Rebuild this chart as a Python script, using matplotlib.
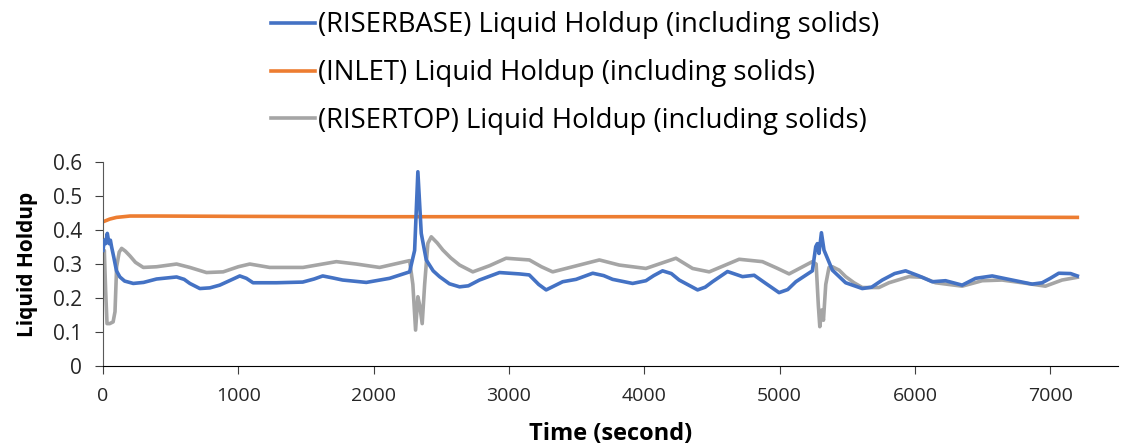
import numpy as np
import matplotlib
matplotlib.use("Agg")
import matplotlib.pyplot as plt

plt.rcParams['font.family'] = ['Open Sans', 'DejaVu Sans']

# RISERBASE liquid holdup
base_t = [0, 10, 20, 32, 45, 55, 64, 80, 100, 125, 160, 224, 300, 396, 544, 600, 642, 716, 790,
          863, 940, 1011, 1060, 1109, 1282, 1476, 1560, 1624, 1700, 1771, 1946, 2118, 2266, 2303,
          2327, 2352, 2389, 2440, 2487, 2560, 2635, 2700, 2782, 2930, 3077, 3150, 3220, 3275,
          3397, 3496, 3619, 3700, 3766, 3914, 4012, 4070, 4135, 4200, 4258, 4394, 4450, 4504,
          4615, 4726, 4812, 4898, 4996, 5060, 5120, 5242, 5267, 5279, 5291, 5309, 5328, 5390,
          5488, 5611, 5680, 5759, 5850, 5931, 6030, 6128, 6226, 6349, 6448, 6571, 6718, 6866,
          6940, 7000, 7063, 7150, 7200]
base_v = [0.34, 0.37, 0.36, 0.39, 0.36, 0.37, 0.35, 0.32, 0.28, 0.262, 0.25, 0.243, 0.246, 0.256,
          0.262, 0.255, 0.243, 0.228, 0.230, 0.238, 0.252, 0.265, 0.258, 0.245, 0.245, 0.247,
          0.256, 0.265, 0.259, 0.253, 0.246, 0.258, 0.277, 0.34, 0.571, 0.39, 0.312, 0.280,
          0.263, 0.242, 0.233, 0.236, 0.253, 0.275, 0.271, 0.268, 0.240, 0.224, 0.248, 0.255,
          0.273, 0.266, 0.255, 0.243, 0.251, 0.266, 0.280, 0.272, 0.253, 0.224, 0.232, 0.248,
          0.278, 0.263, 0.267, 0.243, 0.216, 0.225, 0.248, 0.280, 0.351, 0.36, 0.331, 0.392,
          0.341, 0.282, 0.245, 0.228, 0.232, 0.253, 0.272, 0.280, 0.265, 0.248, 0.251, 0.238,
          0.258, 0.265, 0.253, 0.241, 0.245, 0.258, 0.273, 0.272, 0.265]

# INLET liquid holdup
inlet_t = [0, 50, 100, 200, 400, 1000, 2000, 3000, 4000, 5000, 6000, 7200]
inlet_v = [0.424, 0.432, 0.437, 0.441, 0.441, 0.440, 0.439, 0.439, 0.439, 0.438, 0.438, 0.437]

# RISERTOP liquid holdup
top_t = [0, 10, 20, 30, 50, 75, 89, 101, 120, 138, 165, 199, 240, 298, 396, 544, 642, 765, 888,
         1000, 1085, 1232, 1478, 1725, 1872, 2044, 2266, 2290, 2310, 2327, 2340, 2359, 2377,
         2401, 2426, 2470, 2512, 2570, 2635, 2733, 2856, 2979, 3151, 3240, 3323, 3471, 3668,
         3815, 4012, 4234, 4357, 4480, 4701, 4873, 4980, 5070, 5242, 5270, 5286, 5297, 5311,
         5324, 5341, 5365, 5390, 5440, 5488, 5550, 5611, 5734, 5808, 5956, 6054, 6152, 6349,
         6497, 6644, 6792, 6964, 7087, 7200]
top_v = [0.248, 0.34, 0.22, 0.125, 0.125, 0.13, 0.16, 0.292, 0.335, 0.346, 0.338, 0.324, 0.305,
         0.290, 0.292, 0.300, 0.290, 0.275, 0.277, 0.292, 0.300, 0.290, 0.290, 0.307, 0.300,
         0.290, 0.310, 0.24, 0.106, 0.204, 0.18, 0.125, 0.24, 0.361, 0.380, 0.362, 0.341,
         0.318, 0.297, 0.277, 0.295, 0.317, 0.312, 0.292, 0.277, 0.292, 0.312, 0.297, 0.287,
         0.317, 0.287, 0.277, 0.314, 0.307, 0.288, 0.271, 0.307, 0.30, 0.18, 0.116, 0.165,
         0.135, 0.24, 0.29, 0.292, 0.282, 0.263, 0.245, 0.231, 0.231, 0.245, 0.263, 0.261,
         0.245, 0.235, 0.251, 0.253, 0.245, 0.235, 0.253, 0.261]

labels = ['(RISERBASE) Liquid Holdup (including solids)',
          '(INLET) Liquid Holdup (including solids)',
          '(RISERTOP) Liquid Holdup (including solids)']
colors = ['#4472C4', '#ED7D31', '#A5A5A5']

fig = plt.figure(figsize=(11.24, 4.46), dpi=100)
ax = fig.add_axes([0.0916, 0.179, 0.903, 0.458])

ax.plot(base_t, base_v, color=colors[0], lw=2.6, label=labels[0], zorder=3,
        solid_joinstyle='round')
ax.plot(inlet_t, inlet_v, color=colors[1], lw=2.6, label=labels[1], zorder=2)
ax.plot(top_t, top_v, color=colors[2], lw=2.6, label=labels[2], zorder=1,
        solid_joinstyle='round')

ax.set_xlim(0, 7500)
ax.set_ylim(0, 0.6)
ax.set_xticks(np.arange(0, 7001, 1000))
ax.set_yticks(np.arange(0, 0.61, 0.1))
ax.set_yticklabels(['0', '0.1', '0.2', '0.3', '0.4', '0.5', '0.6'])
for s in ['top', 'right']:
    ax.spines[s].set_visible(False)
ax.spines['left'].set_color('#595959')
ax.spines['bottom'].set_color('black')
ax.tick_params(axis='both', labelsize=14, length=6, direction='out', color='#404040',
               labelcolor='#262626')
ax.tick_params(axis='x', pad=9)
ax.tick_params(axis='y', labelsize=15, pad=9)
ax.set_xlabel('Time (second)', fontsize=17, fontweight='bold', labelpad=12)
ax.set_ylabel('Liquid Holdup', fontsize=15, fontweight='bold', labelpad=11)

fig.legend(loc='upper left', bbox_to_anchor=(0.219, 1.03), frameon=False, fontsize=19.8,
           handlelength=1.6, handletextpad=0.1, labelspacing=0.72)

fig.savefig('out.png', dpi=100)
